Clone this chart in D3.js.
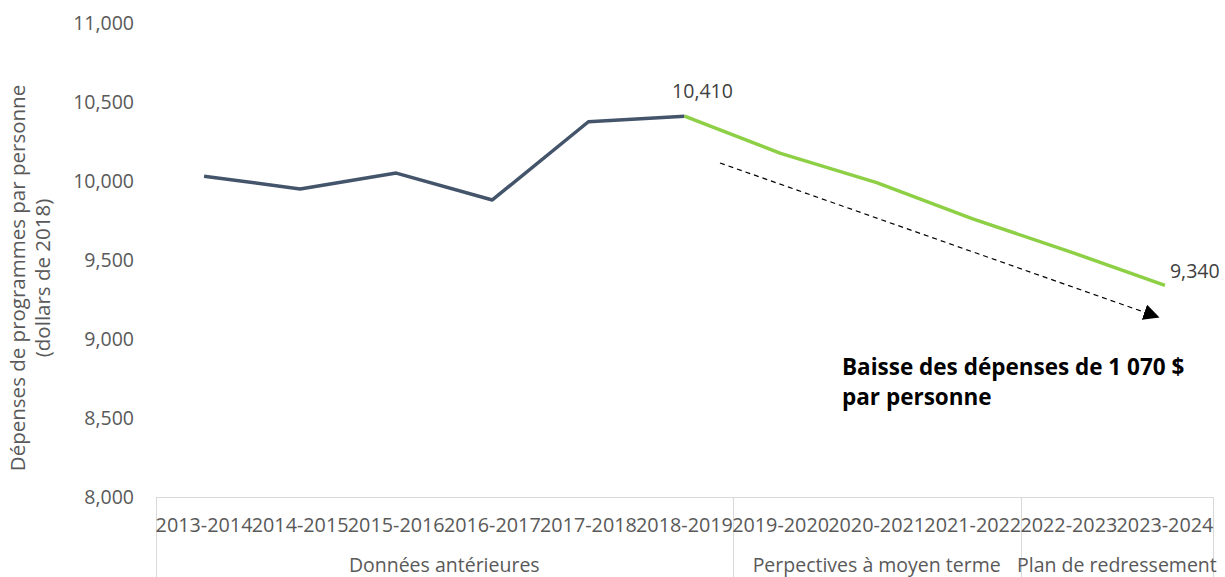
<!DOCTYPE html>
<html>
<head>
<meta charset="utf-8">
<script src="https://cdn.jsdelivr.net/npm/d3@7"></script>
<style>
  body { margin: 0; background: #fff; }
  text { font-family: "Open Sans", "Noto Sans", sans-serif; }
</style>
</head>
<body>
<script>
// données
const years = ["2013-2014", "2014-2015", "2015-2016", "2016-2017", "2017-2018", "2018-2019",
  "2019-2020", "2020-2021", "2021-2022", "2022-2023", "2023-2024"]
const historique = [10030, 9950, 10050, 9880, 10375, 10410]
const projection = [10410, 10175, 9990, 9760, 9555, 9340]
const groupes = ["Données antérieures", "Perpectives à moyen terme", "Plan de redressement"]
const groupeTaille = [6, 3, 2]
const yTicks = [8000, 8500, 9000, 9500, 10000, 10500, 11000]

const W = 1225, H = 577
const svg = d3.select("body").append("svg").attr("width", W).attr("height", H)

const x = d3.scaleBand().domain(years).range([156, 1213])
const y = d3.scaleLinear().domain([8000, 11000]).range([497, 23])
const cx = d => x(d) + x.bandwidth() / 2
const fmt = d3.format(",")

// axe y (labels seulement)
svg.append("g").selectAll("text").data(yTicks).enter().append("text")
  .attr("x", 134).attr("y", d => y(d)).attr("dy", "0.35em")
  .attr("text-anchor", "end").attr("font-size", 19.5).attr("fill", "#595959")
  .text(d => fmt(d))

// titre axe y
const yt = svg.append("text").attr("transform", "translate(0,278) rotate(-90)")
  .attr("text-anchor", "middle").attr("font-size", 20.5).attr("fill", "#595959")
yt.append("tspan").attr("x", 0).attr("y", 25).text("Dépenses de programmes par personne")
yt.append("tspan").attr("x", 0).attr("y", 50).text("(dollars de 2018)")

// axe x multi-niveaux
const axe = svg.append("g").attr("stroke", "#d9d9d9").attr("stroke-width", 1)
axe.append("line").attr("x1", 156).attr("x2", 1213).attr("y1", 497.5).attr("y2", 497.5)
let bornes = [0]
groupeTaille.forEach(n => bornes.push(bornes[bornes.length - 1] + n))
bornes.forEach(b => {
  const px = Math.round(b < years.length ? x(years[b]) : x.range()[1]) + 0.5
  axe.append("line").attr("x1", px).attr("x2", px).attr("y1", 497).attr("y2", H)
})

svg.append("g").selectAll("text").data(years).enter().append("text")
  .attr("x", d => cx(d)).attr("y", 525).attr("dy", "0.35em")
  .attr("text-anchor", "middle").attr("font-size", 19.8).attr("fill", "#595959")
  .text(d => d)

svg.append("g").selectAll("text").data(groupes).enter().append("text")
  .attr("x", (d, i) => {
    const a = x(years[bornes[i]])
    const b = bornes[i + 1] < years.length ? x(years[bornes[i + 1]]) : x.range()[1]
    return (a + b) / 2
  })
  .attr("y", 565).attr("dy", "0.35em")
  .attr("text-anchor", "middle").attr("font-size", 19.5).attr("fill", "#595959")
  .text(d => d)

// lignes
const ligne = d3.line().x(d => cx(d[0])).y(d => y(d[1]))
svg.append("path").datum(historique.map((v, i) => [years[i], v]))
  .attr("d", ligne).attr("fill", "none").attr("stroke", "#44546A").attr("stroke-width", 3.5)
  .attr("stroke-linejoin", "round")
svg.append("path").datum(projection.map((v, i) => [years[i + 5], v]))
  .attr("d", ligne).attr("fill", "none").attr("stroke", "#8DCF45").attr("stroke-width", 3.5)
  .attr("stroke-linejoin", "round")

// étiquettes de données
svg.append("text").attr("x", cx(years[5]) + 18).attr("y", y(10410) - 25).attr("dy", "0.35em")
  .attr("text-anchor", "middle").attr("font-size", 19.5).attr("fill", "#404040").text(fmt(10410))
svg.append("text").attr("x", cx(years[10]) + 5).attr("y", y(9340) - 14).attr("dy", "0.35em")
  .attr("text-anchor", "start").attr("font-size", 19.5).attr("fill", "#404040").text(fmt(9340))

// flèche pointillée
svg.append("defs").append("marker").attr("id", "fleche")
  .attr("viewBox", "0 0 10 10").attr("refX", 9).attr("refY", 5)
  .attr("markerWidth", 16).attr("markerHeight", 16).attr("markerUnits", "userSpaceOnUse")
  .attr("orient", "auto")
  .append("path").attr("d", "M0,0 L10,5 L0,10 Z").attr("fill", "#000")
svg.append("line").attr("x1", 720).attr("y1", 163).attr("x2", 1158).attr("y2", 317)
  .attr("stroke", "#000").attr("stroke-width", 1.2).attr("stroke-dasharray", "5,4")
  .attr("marker-end", "url(#fleche)")

// annotation
const ann = svg.append("text").attr("font-size", 22.5).attr("font-weight", "bold").attr("fill", "#000")
ann.append("tspan").attr("x", 842).attr("y", 375).text("Baisse des dépenses de 1 070 $")
ann.append("tspan").attr("x", 842).attr("y", 405).text("par personne")
</script>
</body>
</html>
